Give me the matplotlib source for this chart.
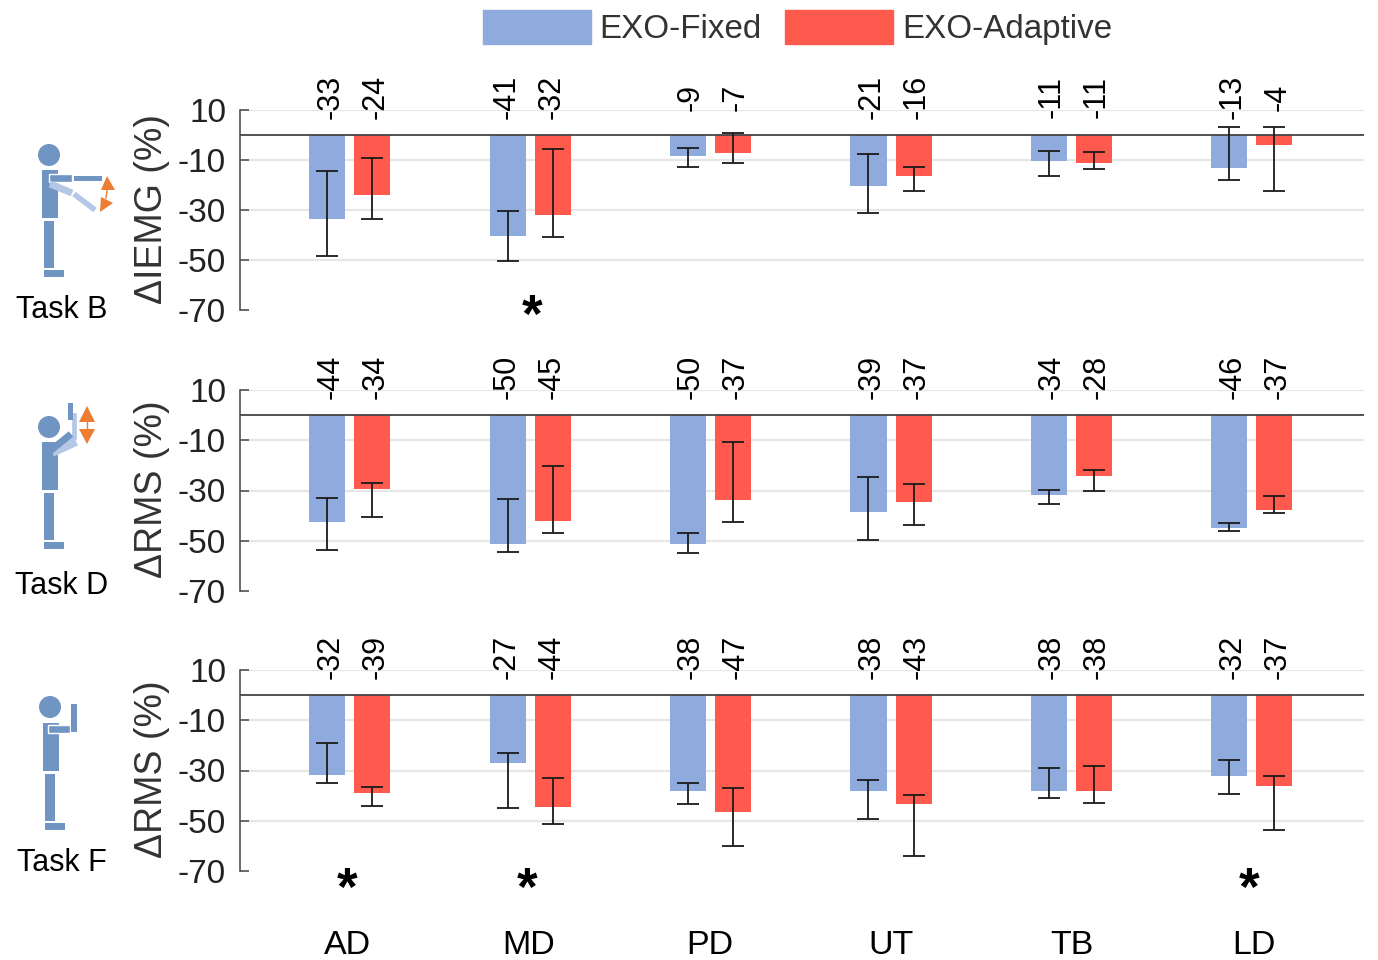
import matplotlib
matplotlib.use('Agg')
import matplotlib.pyplot as plt
from matplotlib.patches import Rectangle, Circle, Polygon
import numpy as np

plt.rcParams['font.family'] = ['Liberation Sans', 'DejaVu Sans']
plt.rcParams['axes.unicode_minus'] = False

muscles = ['AD', 'MD', 'PD', 'UT', 'TB', 'LD']
series_names = ['EXO-Fixed', 'EXO-Adaptive']
ylabels = ['\u0394IEMG (%)', '\u0394RMS (%)', '\u0394RMS (%)']
tasks = ['Task B', 'Task D', 'Task F']
yticks = [10, -10, -30, -50, -70]

# bar heights
fixed_b = [-33.5, -40.5, -8.5, -20.5, -10.5, -13]
adapt_b = [-24, -32, -7, -16.5, -11, -4]
fixed_d = [-42.6, -51.4, -51.4, -38.6, -31.8, -45]
adapt_d = [-29.4, -42.2, -33.8, -34.6, -24.2, -37.8]
fixed_f = [-31.8, -27, -38.2, -38.2, -38.2, -32.2]
adapt_f = [-39, -44.6, -46.6, -43.4, -38.2, -36.2]

# whisker ends
fixed_b_hi = [-14.4, -30.4, -5.2, -7.6, -6.4, 3.2]
fixed_b_lo = [-48.4, -50.4, -12.8, -31.2, -16.4, -18]
adapt_b_hi = [-9.2, -5.6, 0.8, -12.8, -6.8, 3.2]
adapt_b_lo = [-33.6, -40.8, -11.2, -22.4, -13.6, -22.4]
fixed_d_hi = [-33, -33.4, -47, -24.6, -29.8, -43]
fixed_d_lo = [-53.8, -54.6, -55, -49.8, -35.4, -46]
adapt_d_hi = [-27, -20.2, -10.6, -27.4, -21.8, -32.2]
adapt_d_lo = [-40.6, -47, -42.6, -43.8, -30.2, -39]
fixed_f_hi = [-19, -23, -35, -33.8, -29, -25.8]
fixed_f_lo = [-35, -45, -43.4, -49.4, -41, -39.4]
adapt_f_hi = [-36.6, -33, -37, -39.8, -28.2, -32.2]
adapt_f_lo = [-44.2, -51.4, -60.2, -64.2, -43, -53.8]

# printed values above the bars
label_fixed_b = [-33, -41, -9, -21, -11, -13]
label_adapt_b = [-24, -32, -7, -16, -11, -4]
label_fixed_d = [-44, -50, -50, -39, -34, -46]
label_adapt_d = [-34, -45, -37, -37, -28, -37]
label_fixed_f = [-32, -27, -38, -38, -38, -32]
label_adapt_f = [-39, -44, -47, -43, -38, -37]

# groups with a significance star
stars_b = [1]
stars_d = []
stars_f = [0, 1, 5]

blue = '#8faadc'
red = '#ff5a4d'
dark = '#505050'
W, H = 1378, 960

panels = [
    (110, 310, fixed_b, adapt_b, fixed_b_hi, fixed_b_lo, adapt_b_hi, adapt_b_lo, label_fixed_b, label_adapt_b, stars_b, 0.023, -73),
    (390, 591, fixed_d, adapt_d, fixed_d_hi, fixed_d_lo, adapt_d_hi, adapt_d_lo, label_fixed_d, label_adapt_d, stars_d, 0, -73),
    (670, 871, fixed_f, adapt_f, fixed_f_hi, fixed_f_lo, adapt_f_hi, adapt_f_lo, label_fixed_f, label_adapt_f, stars_f, 0, -77.8),
]

fig = plt.figure(figsize=(W / 100, H / 100), dpi=100)
x = np.arange(6)
off = 0.125
label_dx = [0.018, -0.005, 0.012, 0.017, 0.017, 0.02]
axes = []

for n, p in enumerate(panels):
    top, bottom, f, a, f_hi, f_lo, a_hi, a_lo, lab_f, lab_a, stars, star_dx, star_y = p
    ax = fig.add_axes([240 / W, 1 - bottom / H, (1364 - 240) / W, (bottom - top) / H])
    axes.append(ax)
    ax.set_xlim(-0.609, 5.622)
    ax.set_ylim(-70, 10)
    for s in ['top', 'right', 'bottom']:
        ax.spines[s].set_visible(False)
    ax.spines['left'].set_color(dark)
    ax.spines['left'].set_linewidth(1.2)
    ax.set_yticks(yticks)
    ax.tick_params(axis='y', direction='in', length=6.5, width=1.2, color=dark, labelsize=24, pad=10, labelcolor='#222222')
    ax.set_xticks([])
    for t in yticks[:-1]:
        ax.plot([-0.56, 5.622], [t, t], color='#e6e6e6', lw=1.6, zorder=1)
    ax.bar(x - off, f, 0.2, color=blue, zorder=2)
    ax.bar(x + off, a, 0.2, color=red, zorder=2)
    ax.axhline(0.2, color='#444444', lw=1.3, zorder=3)
    for xs, hi, lo in [(x - off, f_hi, f_lo), (x + off, a_hi, a_lo)]:
        hi, lo = np.array(hi), np.array(lo)
        ax.errorbar(xs, (hi + lo) / 2, yerr=(hi - lo) / 2, fmt='none', ecolor='#1a1a1a',
                    elinewidth=1.3, capsize=8, capthick=1.3, zorder=4)
    for i in range(6):
        ax.text(x[i] - off + label_dx[i], 15.2, str(lab_f[i]), rotation=90, ha='center', va='center', fontsize=22, clip_on=False)
        ax.text(x[i] + off + label_dx[i], 15.2, str(lab_a[i]), rotation=90, ha='center', va='center', fontsize=22, clip_on=False)
    for i in stars:
        ax.text(x[i] - 0.015 + star_dx, star_y, '*', ha='center', va='center', fontsize=38, fontweight='bold', clip_on=False)
    fig.text(152 / W, 1 - ((top + bottom) / 2 - 1) / H, ylabels[n], rotation=90, ha='center', va='center',
             fontsize=27, color='#333333')

for i, m in enumerate(muscles):
    axes[2].text(i * 1.005 - 0.015, -99.8, m, ha='center', va='center', fontsize=24.5, clip_on=False)

# legend on top
h = [Rectangle((0, 0), 1, 1, color=blue), Rectangle((0, 0), 1, 1, color=red)]
fig.legend(h, series_names, ncol=2, loc='center', bbox_to_anchor=(797.5 / W, 1 - 27.5 / H), frameon=False, fontsize=23.9,
           handlelength=3.25, handleheight=1.2, handletextpad=0.27, columnspacing=0.7, labelcolor='#333333')

# stick figures, drawn in pixel coordinates
ov = fig.add_axes([0, 0, 1, 1], facecolor='none')
ov.set_xlim(0, W)
ov.set_ylim(H, 0)
ov.axis('off')
body = '#7095c2'
light = '#b4c7e7'
orange = '#ed7d31'


def rect(x0, x1, y0, y1, c=body, edge='none'):
    ov.add_patch(Rectangle((x0, y0), x1 - x0, y1 - y0, facecolor=c, edgecolor=edge, lw=1))


def limb(x0, y0, x1, y1, c, w):
    ov.plot([x0, x1], [y0, y1], color=c, lw=w, solid_capstyle='butt')


def person(hx, hy, tx, ty):
    ov.add_patch(Circle((hx, hy), 11, color=body, lw=0))
    rect(tx, tx + 16, ty, ty + 48)
    rect(tx + 2, tx + 12, ty + 51, ty + 98)
    rect(tx + 2, tx + 22, ty + 100, ty + 107)


person(49, 155, 42, 170)
limb(50, 184, 72, 193, light, 5)
limb(74, 194, 95, 210, light, 4)
rect(49, 72, 174, 182, body, 'white')
rect(74, 102, 176, 181)
ov.plot([107, 106], [190, 198], color=orange, lw=1)
ov.add_patch(Polygon([(101, 190), (115, 190), (107, 176)], color=orange, lw=0))
ov.add_patch(Polygon([(100, 212), (113, 203), (101, 197)], color=orange, lw=0))
ov.text(62, 310, tasks[0], ha='center', va='center', fontsize=22)

person(49, 427, 42, 442)
limb(52, 452, 76, 441, light, 7)
limb(50, 451, 71, 434, body, 5)
rect(71, 77, 412, 440, light, 'white')
rect(68, 73, 403, 420)
ov.add_patch(Polygon([(79, 422), (95, 422), (87, 406)], color=orange, lw=0))
ov.add_patch(Polygon([(79, 429), (95, 429), (87, 444)], color=orange, lw=0))
ov.plot([87, 87], [420, 431], color=orange, lw=1)
ov.text(62, 586, tasks[1], ha='center', va='center', fontsize=22)

person(50, 707, 43, 723)
rect(48, 70, 725, 733, body, 'white')
rect(71, 77, 704, 732)
ov.text(62, 863, tasks[2], ha='center', va='center', fontsize=22)

fig.savefig('out.png', dpi=100)
